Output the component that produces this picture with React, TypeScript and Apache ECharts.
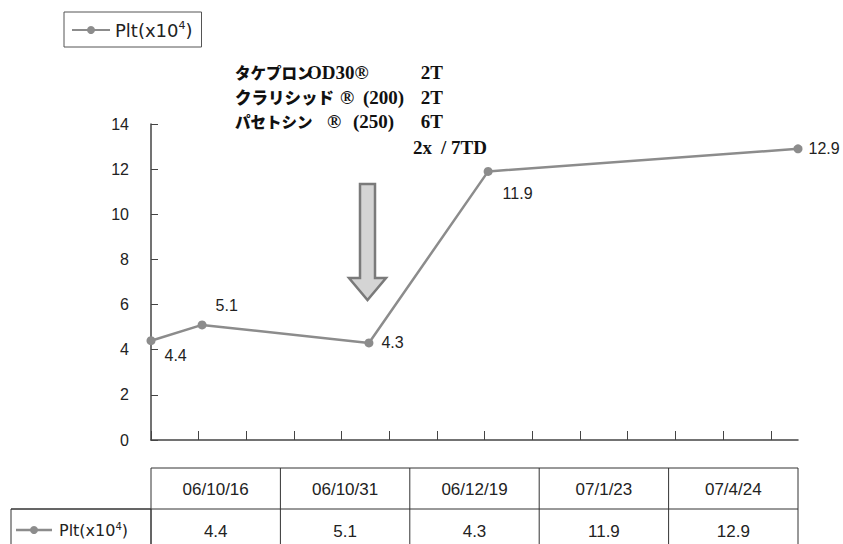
import React, { useEffect, useRef } from 'react';
import * as echarts from 'echarts';

const dates: string[] = ['06/10/16', '06/10/31', '06/12/19', '07/1/23', '07/4/24'];
const pltValues: number[] = [4.4, 5.1, 4.3, 11.9, 12.9];
const seriesLabel = 'Plt(x10⁴)';
const labelOffsets: number[][] = [[4, 15], [4, -19], [3, 0], [5, 22], [1, 0]];
const tickStepDays = 14;

const annotationLines = [
  { jp: 'タケプロン', parts: [{ x: 307, t: 'OD30®' }], dose: '2T' },
  { jp: 'クラリシッド', parts: [{ x: 340, t: '®' }, { x: 363, t: '(200)' }], dose: '2T' },
  { jp: 'パセトシン', parts: [{ x: 327, t: '®' }, { x: 353, t: '(250)' }], dose: '6T' },
];

function parseDate(s: string): number {
  const [y, m, d] = s.split('/').map(Number);
  return Date.UTC(2000 + y, m - 1, d);
}

const dayOffsets = dates.map((s) => Math.round((parseDate(s) - parseDate(dates[0])) / 86400000));

export default function App() {
  const ref = useRef<HTMLDivElement>(null);
  useEffect(() => {
    if (!ref.current) return;
    const chart = echarts.init(ref.current, undefined, { renderer: 'svg' });
    const maxDay = dayOffsets[dayOffsets.length - 1];
    const tickValues: number[] = [];
    for (let v = 0; v < maxDay; v += tickStepDays) tickValues.push(v);

    const jpFont = '"Noto Sans CJK JP", sans-serif';
    const serif = '"Liberation Serif", "DejaVu Serif", serif';
    const sans = '"Liberation Sans", Arial, sans-serif';
    const dv = '"DejaVu Sans", sans-serif';

    const graphics: any[] = [];
    const lineY = [72, 97, 121];
    const jpSizes = [15.5, 16.5, 15.5];
    annotationLines.forEach((ln, i) => {
      const cy = lineY[i];
      graphics.push({ type: 'text', x: 235, y: cy, style: { text: ln.jp, font: `900 ${jpSizes[i]}px ${jpFont}`, fill: '#111', verticalAlign: 'middle' } });
      ln.parts.forEach((p) => {
        graphics.push({ type: 'text', x: p.x, y: cy, style: { text: p.t, font: `bold 19px ${serif}`, fill: '#111', verticalAlign: 'middle' } });
      });
      graphics.push({ type: 'text', x: 443, y: cy, style: { text: ln.dose, font: `bold 19px ${serif}`, fill: '#111', verticalAlign: 'middle', align: 'right' } });
    });
    graphics.push({ type: 'text', x: 413, y: 147, style: { text: '2x', font: `bold 19px ${serif}`, fill: '#111', verticalAlign: 'middle' } });
    graphics.push({ type: 'text', x: 441, y: 147, style: { text: '/ 7TD', font: `bold 19px ${serif}`, fill: '#111', verticalAlign: 'middle' } });

    graphics.push({
      type: 'polygon',
      shape: { points: [[360, 184], [375, 184], [375, 278], [386, 278], [367.5, 300], [349, 278], [360, 278]] },
      style: { fill: '#d4d4d4', stroke: '#7a7a7a', lineWidth: 2.5 },
    });

    const tLeft = 151, tRight = 798, hTop = 468, hBot = 509, dBot = 550;
    const colW = (tRight - tLeft) / dates.length;
    const border = { stroke: '#333', lineWidth: 1 };
    graphics.push({ type: 'rect', shape: { x: tLeft, y: hTop, width: tRight - tLeft, height: dBot - hTop }, style: { fill: 'none', ...border } });
    graphics.push({ type: 'rect', shape: { x: 11, y: hBot, width: tLeft - 11, height: dBot - hBot }, style: { fill: 'none', ...border } });
    graphics.push({ type: 'line', shape: { x1: 11, y1: hBot, x2: tRight, y2: hBot }, style: border });
    for (let i = 1; i < dates.length; i++) {
      const x = tLeft + colW * i;
      graphics.push({ type: 'line', shape: { x1: x, y1: hTop, x2: x, y2: dBot }, style: border });
    }
    dates.forEach((d, i) => {
      const cx = tLeft + colW * (i + 0.5);
      graphics.push({ type: 'text', x: cx, y: 489, style: { text: d, font: `17px ${sans}`, fill: '#222', align: 'center', verticalAlign: 'middle' } });
      graphics.push({ type: 'text', x: cx, y: 531, style: { text: String(pltValues[i]), font: `17px ${sans}`, fill: '#222', align: 'center', verticalAlign: 'middle' } });
    });
    graphics.push({ type: 'line', shape: { x1: 16, y1: 530, x2: 52, y2: 530 }, style: { stroke: '#8c8c8c', lineWidth: 2.5 } });
    graphics.push({ type: 'circle', shape: { cx: 34, cy: 530, r: 4 }, style: { fill: '#8c8c8c' } });
    graphics.push({
      type: 'text', x: 59, y: 530,
      style: {
        text: '{a|Plt(x10}{s|4}{a|)}',
        verticalAlign: 'middle',
        rich: {
          a: { fontSize: 16, fontFamily: dv, fill: '#222', lineHeight: 18 },
          s: { fontSize: 10, fontFamily: dv, fill: '#222', verticalAlign: 'top', lineHeight: 10 },
        },
      },
    });

    chart.setOption({
      animation: false,
      backgroundColor: '#fff',
      textStyle: { fontFamily: sans },
      legend: {
        left: 64,
        top: 12,
        padding: [8, 9, 8, 7],
        itemWidth: 38,
        itemHeight: 10,
        itemGap: 0,
        borderColor: '#555',
        borderWidth: 1,
        data: [seriesLabel],
        formatter: () => '{a|Plt(x10}{s|4}{a|)}',
        textStyle: {
          fontSize: 18,
          fontFamily: dv,
          rich: {
            a: { fontSize: 18, fontFamily: dv, color: '#222', lineHeight: 20 },
            s: { fontSize: 11, fontFamily: dv, color: '#222', verticalAlign: 'top', lineHeight: 11 },
          },
        },
      },
      grid: { left: 151, right: 45, top: 124, bottom: 104 },
      xAxis: {
        type: 'value',
        min: 0,
        max: maxDay,
        axisLine: { show: true, lineStyle: { color: '#444', width: 1.5 } },
        axisTick: { show: true, inside: true, length: 9, customValues: tickValues, lineStyle: { color: '#444' } },
        axisLabel: { show: false },
        splitLine: { show: false },
      },
      yAxis: {
        type: 'value',
        min: 0,
        max: 14,
        interval: 2,
        axisLine: { show: true, lineStyle: { color: '#444', width: 1.5 } },
        axisTick: { show: true, inside: true, length: 7, lineStyle: { color: '#444' } },
        axisLabel: { fontSize: 16, color: '#222', margin: 22, fontFamily: sans },
        splitLine: { show: false },
      },
      graphic: graphics,
      series: [
        {
          name: seriesLabel,
          type: 'line',
          clip: false,
          symbol: 'circle',
          symbolSize: 9,
          lineStyle: { color: '#8c8c8c', width: 2.5 },
          itemStyle: { color: '#8c8c8c' },
          label: {
            show: true,
            position: 'right',
            fontSize: 16,
            color: '#222',
            fontFamily: sans,
            formatter: (p: any) => String(p.value[1]),
          },
          data: pltValues.map((v, i) => ({
            value: [dayOffsets[i], v],
            label: { offset: labelOffsets[i] },
          })),
        },
      ],
    });
    return () => chart.dispose();
  }, []);
  return <div ref={ref} style={{ position: 'absolute', left: 0, top: 0, width: 843, height: 544 }} />;
}
